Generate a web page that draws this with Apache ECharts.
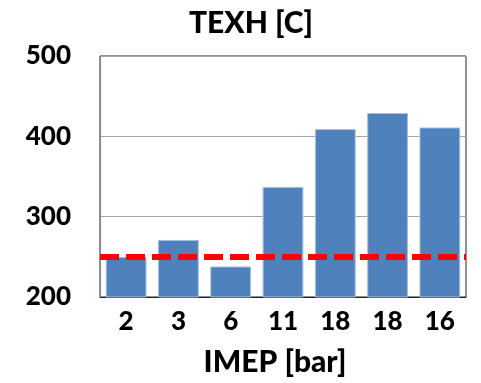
<!DOCTYPE html>
<html>
<head>
<meta charset="utf-8">
<script src="https://cdn.jsdelivr.net/npm/echarts@6/dist/echarts.min.js"></script>
<style>html,body{margin:0;padding:0;background:#fff}#c{width:481px;height:383px}</style>
</head>
<body>
<div id="c"></div>
<script>
const categories = ['2', '3', '6', '11', '18', '18', '16'];
const texh = [250, 271, 238, 337, 409, 429, 411];
const limitValue = 250;
const yTicks = [200, 300, 400, 500];
const titleText = 'TEXH [C]';
const xName = 'IMEP [bar]';

const FONT = 'Lato, "Open Sans", sans-serif';
const W = 900;
const chart = echarts.init(document.getElementById('c'), null, {renderer: 'canvas'});
chart.setOption({
  animation: false,
  backgroundColor: '#fff',
  graphic: [{
    type: 'text', x: 251, y: 8,
    style: {text: titleText, font: W + ' 30px ' + FONT, fill: '#000', textAlign: 'center'}
  }],
  grid: {left: 100, right: 15, top: 56, bottom: 86, show: true, borderColor: '#222', borderWidth: 1, containLabel: false},
  xAxis: {
    type: 'category', data: categories,
    axisLine: {show: true, lineStyle: {color: '#222', width: 1}},
    axisTick: {show: false},
    axisLabel: {fontSize: 26, fontWeight: W, fontFamily: FONT, color: '#000', margin: 12},
    name: xName, nameLocation: 'middle', nameGap: 50,
    nameTextStyle: {fontSize: 30, fontWeight: W, fontFamily: FONT, color: '#000', padding: [0, 16, 0, 0]}
  },
  yAxis: {
    type: 'value', min: yTicks[0], max: yTicks[yTicks.length - 1], interval: 100,
    axisLine: {show: true, lineStyle: {color: '#888', width: 1}},
    axisTick: {show: false},
    splitLine: {show: true, lineStyle: {color: '#A6A6A6', width: 1}},
    axisLabel: {fontSize: 26, fontWeight: W, fontFamily: FONT, color: '#000', margin: 29}
  },
  series: [{
    type: 'bar', data: texh, barCategoryGap: '22%',
    itemStyle: {color: '#4F81BD', borderColor: '#A7BFDF', borderWidth: 1},
    markLine: {
      silent: true, symbol: 'none', label: {show: false},
      lineStyle: {color: '#FF0000', width: 6, type: [19, 7]},
      data: [{yAxis: limitValue}]
    }
  }]
});
</script>
</body>
</html>
